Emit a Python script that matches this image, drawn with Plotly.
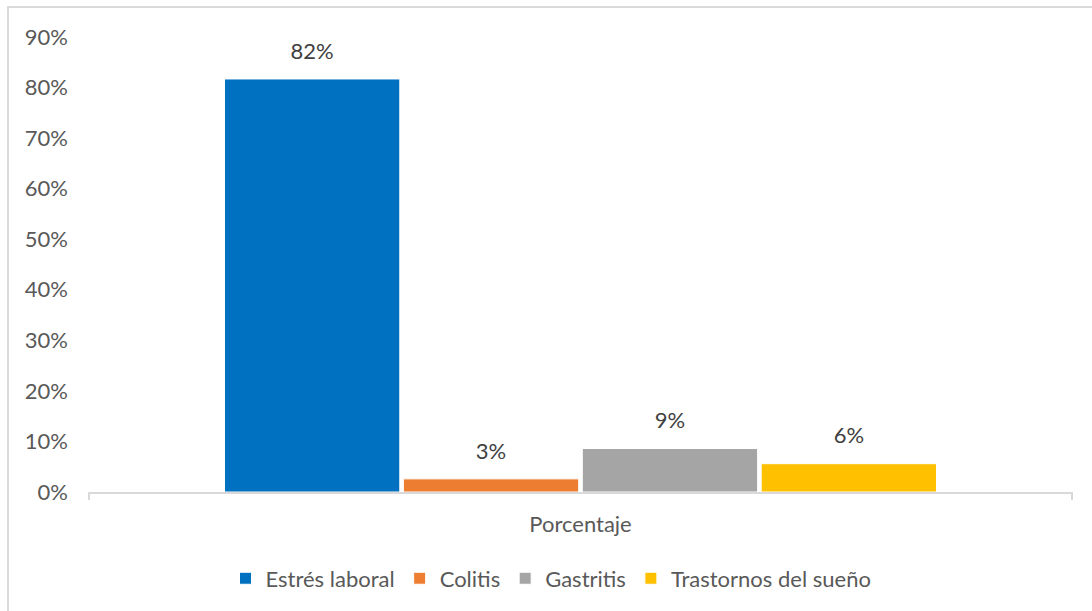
import plotly.graph_objects as go

# Survey result: share of each health condition
category = ["Porcentaje"]
conditions = ["Estrés laboral", "Colitis", "Gastritis", "Trastornos del sueño"]
shares = [0.817, 0.026, 0.086, 0.056]
colors = ["#0070C0", "#ED7D31", "#A5A5A5", "#FFC000"]
y_ticks = [0, 0.1, 0.2, 0.3, 0.4, 0.5, 0.6, 0.7, 0.8, 0.9]

FONT = "Lato"
SIZE = 22

fig = go.Figure()
for i, (name, val, col) in enumerate(zip(conditions, shares, colors)):
    fig.add_trace(go.Bar(
        name=name,
        x=category,
        y=[val],
        offsetgroup=str(i),
        marker=dict(color=col, line=dict(color="white", width=1)),
    ))
    # value label sitting above its bar (invisible marker gives the gap)
    fig.add_trace(go.Scatter(
        x=category,
        y=[val],
        offsetgroup=str(i),
        mode="text+markers",
        marker=dict(size=22, opacity=0),
        text=[f"{val:.0%}"],
        textposition="top center",
        textfont=dict(family=FONT, size=SIZE, color="#404040"),
        showlegend=False,
        hoverinfo="skip",
        cliponaxis=False,
    ))

fig.update_layout(
    width=1092, height=611,
    margin=dict(l=89, r=20, t=37, b=119),
    paper_bgcolor="white", plot_bgcolor="white",
    barmode="group",
    scattermode="group",
    bargap=0.272,
    bargroupgap=0.02,
    font=dict(family=FONT, size=SIZE, color="#595959"),
    showlegend=True,
    legend=dict(
        orientation="h",
        x=0.47, xanchor="center",
        y=-0.19, yanchor="middle",
        font=dict(family=FONT, size=SIZE, color="#595959"),
        itemwidth=30,
        tracegroupgap=0,
    ),
    xaxis=dict(
        showline=True, linecolor="#D9D9D9", linewidth=2,
        showgrid=False, ticks="", ticklabelstandoff=12,
        tickfont=dict(family=FONT, size=SIZE, color="#595959"),
    ),
    yaxis=dict(
        range=[0, 0.9],
        tickvals=y_ticks,
        tickformat=".0%",
        showgrid=False, zeroline=False, showline=False,
        ticks="", ticklabelstandoff=20,
        tickfont=dict(family=FONT, size=SIZE, color="#595959"),
    ),
    shapes=[
        # outer chart frame
        dict(type="rect", xref="paper", yref="paper",
             x0=(8 - 89) / 983, x1=(1100 - 89) / 983,
             y0=(492 - 620) / 455, y1=(492 - 7) / 455,
             line=dict(color="#D9D9D9", width=2), layer="below"),
        # end ticks of the category axis
        dict(type="line", xref="paper", yref="paper",
             x0=0, x1=0, y0=0, y1=-8 / 455,
             line=dict(color="#D9D9D9", width=2)),
        dict(type="line", xref="paper", yref="paper",
             x0=1, x1=1, y0=0, y1=-8 / 455,
             line=dict(color="#D9D9D9", width=2)),
    ],
)

fig.write_html("out.html")
